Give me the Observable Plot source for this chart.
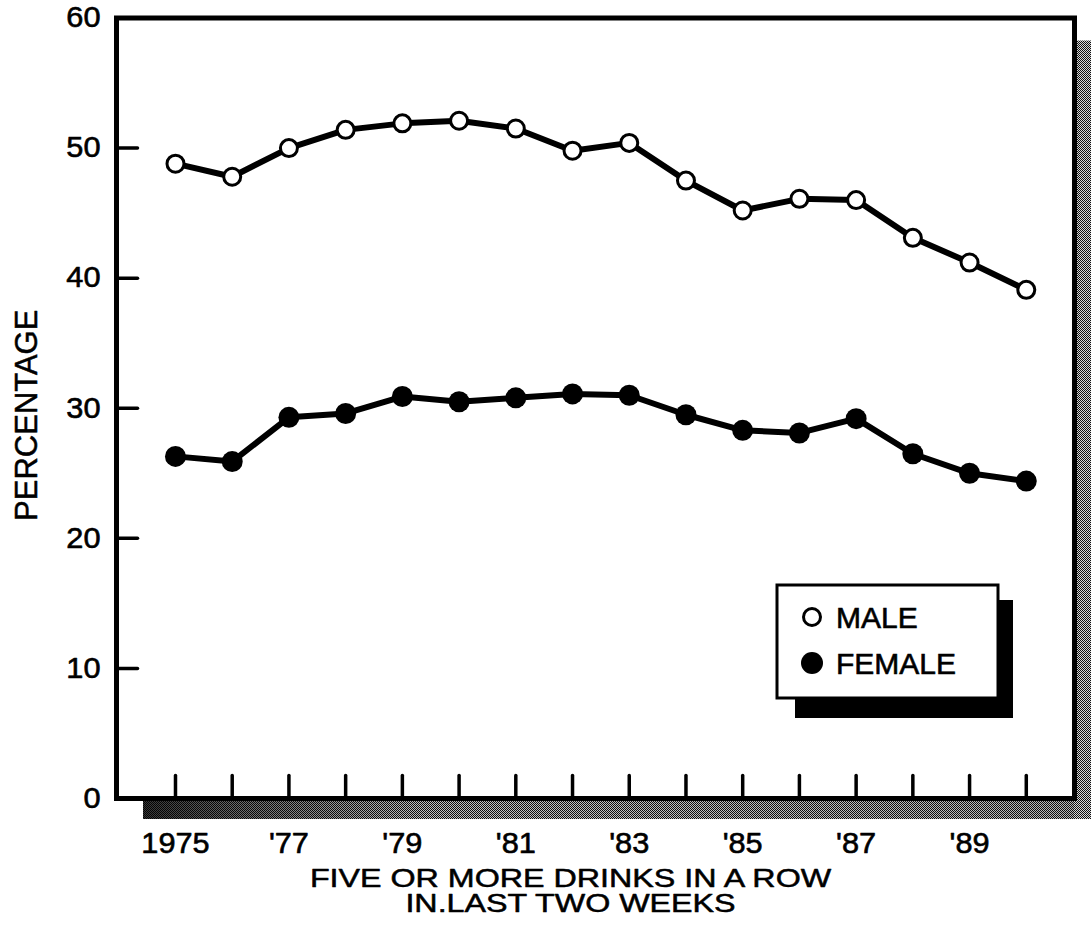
<!DOCTYPE html>
<html><head><meta charset="utf-8">
<script src="https://cdn.jsdelivr.net/npm/d3@7"></script>
<script src="https://cdn.jsdelivr.net/npm/@observablehq/plot@0.6"></script>
<style>
html,body{margin:0;padding:0;background:#fff;}
#chart svg{display:block;}
</style></head><body><div id="chart"></div>
<script>
// ---- data ----
const years = [1975,1976,1977,1978,1979,1980,1981,1982,1983,1984,1985,1986,1987,1988,1989,1990];
const male = [48.8,47.8,50.0,51.4,51.9,52.1,51.5,49.8,50.4,47.5,45.2,46.1,46.0,43.1,41.2,39.1];
const female = [26.3,25.9,29.3,29.6,30.9,30.5,30.8,31.1,31.0,29.5,28.3,28.1,29.2,26.5,25.0,24.4];
const seriesNames = ["MALE", "FEMALE"];
const yTickValues = [0,10,20,30,40,50,60];
const yTickMarks = [10,20,30,40,50];
const xLabelYears = [1975,1977,1979,1981,1983,1985,1987,1989];
const xLabels = ["1975","'77","'79","'81","'83","'85","'87","'89"];
const yTitle = "PERCENTAGE";
const xTitle = ["FIVE OR MORE DRINKS IN A ROW", "IN.LAST TWO WEEKS"];

const rows = [
  ...years.map((yr, i) => ({year: yr, value: male[i], sex: seriesNames[0]})),
  ...years.map((yr, i) => ({year: yr, value: female[i], sex: seriesNames[1]}))
];

const FONT = "Liberation Sans, Arial, Helvetica, sans-serif";
const tickShape = {draw(context, l) { context.moveTo(0, 0); context.lineTo(0, -l); }};

// stippled shadows along the frame
function frameShadow(index, scales, values, dims) {
  const {width, height, marginLeft, marginRight, marginTop, marginBottom} = dims;
  const R = width - marginRight, T = marginTop, B = height - marginBottom, L = marginLeft;
  const g = d3.create("svg:g");
  const defs = g.append("defs");
  const pat = defs.append("pattern").attr("id", "stip").attr("width", 2).attr("height", 2).attr("patternUnits", "userSpaceOnUse");
  pat.append("rect").attr("width", 2).attr("height", 2).attr("fill", "#d8d8d8");
  pat.append("rect").attr("width", 1).attr("height", 1).attr("fill", "#111");
  pat.append("rect").attr("x", 1).attr("y", 1).attr("width", 1).attr("height", 1).attr("fill", "#111");
  const grad = defs.append("linearGradient").attr("id", "darkL").attr("x1", 0).attr("x2", 1).attr("y1", 0).attr("y2", 0);
  grad.append("stop").attr("offset", 0).attr("stop-color", "#000").attr("stop-opacity", 0.75);
  grad.append("stop").attr("offset", 0.1).attr("stop-color", "#000").attr("stop-opacity", 0.5);
  grad.append("stop").attr("offset", 0.3).attr("stop-color", "#000").attr("stop-opacity", 0.1);
  grad.append("stop").attr("offset", 1).attr("stop-color", "#000").attr("stop-opacity", 0.15);
  g.append("rect").attr("x", L + 27).attr("y", B).attr("width", width - L - 27).attr("height", 21).attr("fill", "url(#stip)");
  g.append("rect").attr("x", L + 27).attr("y", B).attr("width", width - L - 27).attr("height", 21).attr("fill", "url(#darkL)");
  g.append("rect").attr("x", R).attr("y", T + 23).attr("width", width - R).attr("height", B - T - 2).attr("fill", "url(#stip)");
  return g.node();
}

// legend box inside the frame
function legendBox(index, scales, values, dims) {
  const {width, height, marginRight, marginBottom} = dims;
  const R = width - marginRight, B = height - marginBottom;
  const x0 = R - 297, y0 = B - 213, w = 221, h = 113;
  const g = d3.create("svg:g").attr("font-family", FONT).attr("text-anchor", "start");
  g.append("rect").attr("x", x0 + 18).attr("y", y0 + 15).attr("width", 218).attr("height", 118).attr("fill", "#000");
  g.append("rect").attr("x", x0).attr("y", y0).attr("width", w).attr("height", h).attr("fill", "#fff").attr("stroke", "#000").attr("stroke-width", 3);
  const items = [
    {name: seriesNames[0], fill: "#fff", r: 8.5, sw: 3, dy: 32},
    {name: seriesNames[1], fill: "#000", r: 11, sw: 0, dy: 78}
  ];
  for (const it of items) {
    g.append("circle").attr("cx", x0 + 35).attr("cy", y0 + it.dy).attr("r", it.r)
      .attr("fill", it.fill).attr("stroke", "#000").attr("stroke-width", it.sw);
    g.append("text").attr("x", x0 + 59).attr("y", y0 + it.dy).attr("dy", "0.36em")
      .attr("text-anchor", "start").attr("font-size", 30).attr("fill", "#000")
      .attr("stroke", "#000").attr("stroke-width", 0.6).text(it.name);
  }
  return g.node();
}

const chart = Plot.plot({
  width: 1091,
  height: 929,
  marginLeft: 116,
  marginRight: 17,
  marginTop: 17.5,
  marginBottom: 131,
  style: {fontFamily: FONT, color: "#000", background: "#fff", overflow: "visible"},
  x: {domain: [1973.96, 1990.85], axis: null},
  y: {domain: [0, 60], axis: null},
  marks: [
    frameShadow,
    Plot.frame({stroke: "#000", strokeWidth: 5}),
    // inward ticks
    Plot.vector(years, {x: d => d, frameAnchor: "bottom", length: 23, rotate: 0, anchor: "start", shape: tickShape, stroke: "#000", strokeWidth: 3.5}),
    Plot.vector(yTickMarks, {y: d => d, frameAnchor: "left", length: 21, rotate: 90, anchor: "start", shape: tickShape, stroke: "#000", strokeWidth: 3.5}),
    // tick labels
    Plot.text(yTickValues, {y: d => d, frameAnchor: "left", text: d => String(d), dx: -16, textAnchor: "end", lineAnchor: "middle", fontSize: 29, fill: "#000", stroke: "#000", strokeWidth: 0.6}),
    Plot.text(xLabelYears, {x: d => d, frameAnchor: "bottom", text: (d, i) => xLabels[i], dy: 45, textAnchor: "middle", lineAnchor: "middle", fontSize: 29, fill: "#000", stroke: "#000", strokeWidth: 0.6}),
    // axis titles
    Plot.text([yTitle], {frameAnchor: "left", text: d => d, rotate: -90, dx: -89, dy: 7, textAnchor: "middle", lineAnchor: "middle", fontSize: 31, fill: "#000", stroke: "#000", strokeWidth: 0.5}),
    Plot.text([xTitle.join("\n")], {frameAnchor: "bottom", text: d => d, dx: -25, dy: 71, fontSize: 25, lineHeight: 1.0, textAnchor: "middle", lineAnchor: "top", fill: "#000", stroke: "#000", strokeWidth: 0.5}),
    // data
    Plot.line(rows, {x: "year", y: "value", z: "sex", stroke: "#000", strokeWidth: 6, strokeLinejoin: "round"}),
    Plot.dot(rows.filter(d => d.sex === seriesNames[0]), {x: "year", y: "value", r: 8.5, fill: "#fff", stroke: "#000", strokeWidth: 3}),
    Plot.dot(rows.filter(d => d.sex === seriesNames[1]), {x: "year", y: "value", r: 10.5, fill: "#000", stroke: "none"}),
    legendBox
  ]
});

// widen glyphs like the original typesetting
d3.select(chart).selectAll("text").each(function() {
  const s = d3.select(this);
  const t = s.attr("transform");
  if (!t) return;
  if (this.textContent.startsWith("FIVE")) s.attr("transform", t + " scale(1.29,1)");
  else if (xLabels.includes(this.textContent) || yTickValues.map(String).includes(this.textContent)) s.attr("transform", t + " scale(1.06,1)");
});

document.getElementById("chart").appendChild(chart);
</script>
</body></html>
